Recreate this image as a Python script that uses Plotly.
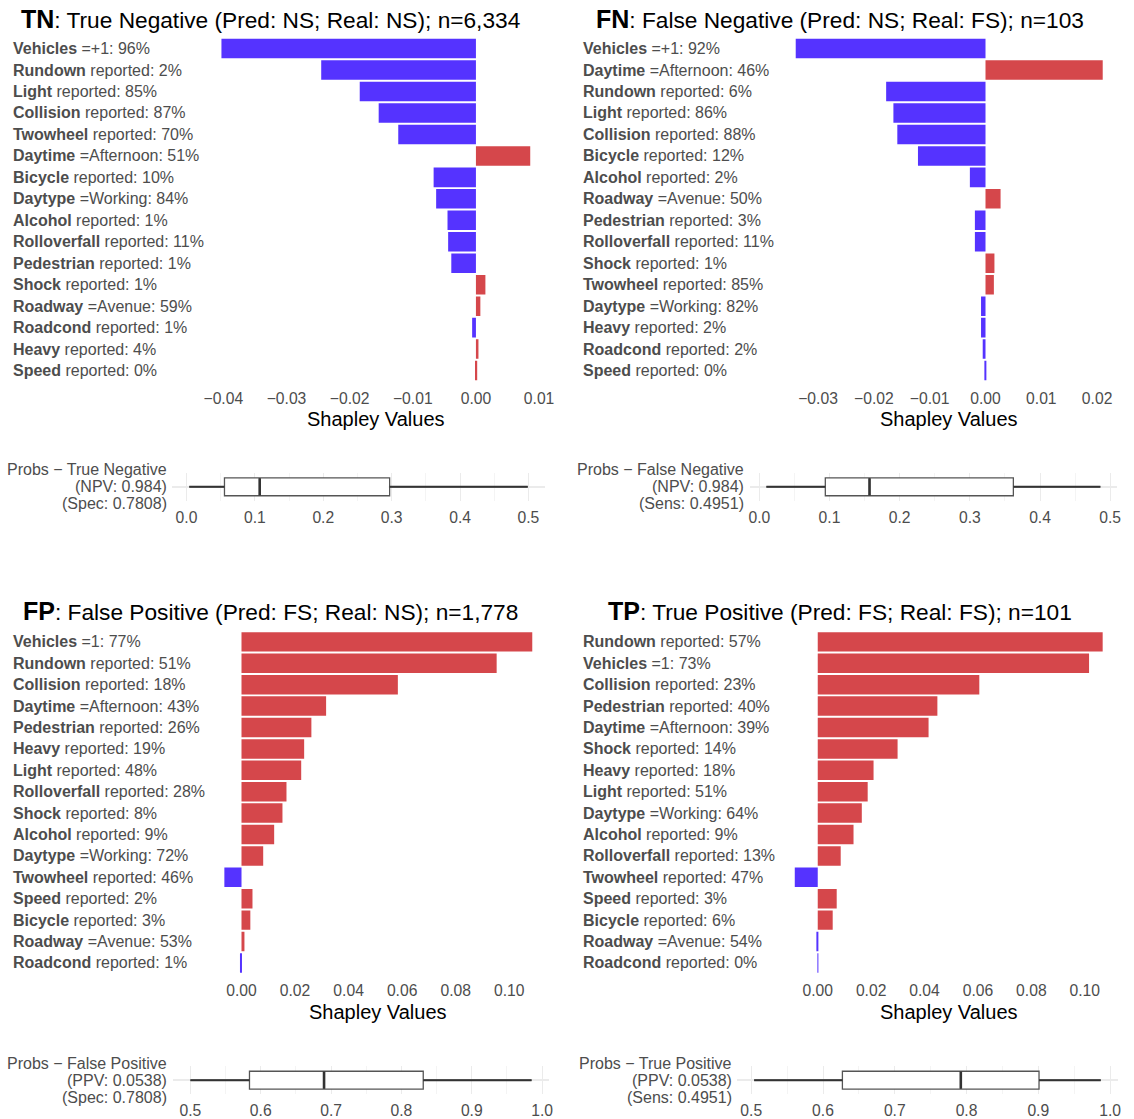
import plotly.graph_objects as go

W, H = 1134, 1119
FONT = "Liberation Sans, Arial, sans-serif"
BLUE = "#5533FF"
RED = "#D5474B"
GREY = "#4d4d4d"

# ---------------- data ----------------
tn_features = ["Vehicles", "Rundown", "Light", "Collision", "Twowheel", "Daytime", "Bicycle", "Daytype",
               "Alcohol", "Rolloverfall", "Pedestrian", "Shock", "Roadway", "Roadcond", "Heavy", "Speed"]
tn_levels = ["=+1", "reported", "reported", "reported", "reported", "=Afternoon", "reported", "=Working",
             "reported", "reported", "reported", "reported", "=Avenue", "reported", "reported", "reported"]
tn_pct = [96, 2, 85, 87, 70, 51, 10, 84, 1, 11, 1, 1, 59, 1, 4, 0]
tn_shap = [-0.0403, -0.0245, -0.0184, -0.0154, -0.0123, 0.0086, -0.0067, -0.0063,
           -0.0045, -0.0044, -0.0039, 0.0015, 0.0007, -0.0006, 0.0004, 0.0002]

fn_features = ["Vehicles", "Daytime", "Rundown", "Light", "Collision", "Bicycle", "Alcohol", "Roadway",
               "Pedestrian", "Rolloverfall", "Shock", "Twowheel", "Daytype", "Heavy", "Roadcond", "Speed"]
fn_levels = ["=+1", "=Afternoon", "reported", "reported", "reported", "reported", "reported", "=Avenue",
             "reported", "reported", "reported", "reported", "=Working", "reported", "reported", "reported"]
fn_pct = [92, 46, 6, 86, 88, 12, 2, 50, 3, 11, 1, 85, 82, 2, 2, 0]
fn_shap = [-0.0340, 0.0210, -0.0178, -0.0165, -0.0158, -0.0121, -0.0028, 0.0027,
           -0.0019, -0.0019, 0.0016, 0.0015, -0.0008, -0.0008, -0.0005, -0.0001]

fp_features = ["Vehicles", "Rundown", "Collision", "Daytime", "Pedestrian", "Heavy", "Light", "Rolloverfall",
               "Shock", "Alcohol", "Daytype", "Twowheel", "Speed", "Bicycle", "Roadway", "Roadcond"]
fp_levels = ["=1", "reported", "reported", "=Afternoon", "reported", "reported", "reported", "reported",
             "reported", "reported", "=Working", "reported", "reported", "reported", "=Avenue", "reported"]
fp_pct = [77, 51, 18, 43, 26, 19, 48, 28, 8, 9, 72, 46, 2, 3, 53, 1]
fp_shap = [0.1086, 0.0953, 0.0584, 0.0316, 0.0261, 0.0234, 0.0223, 0.0168,
           0.0153, 0.0122, 0.0081, -0.0064, 0.0041, 0.0033, 0.0011, -0.0002]

tp_features = ["Rundown", "Vehicles", "Collision", "Pedestrian", "Daytime", "Shock", "Heavy", "Light",
               "Daytype", "Alcohol", "Rolloverfall", "Twowheel", "Speed", "Bicycle", "Roadway", "Roadcond"]
tp_levels = ["reported", "=1", "reported", "reported", "=Afternoon", "reported", "reported", "reported",
             "=Working", "reported", "reported", "reported", "reported", "reported", "=Avenue", "reported"]
tp_pct = [57, 73, 23, 40, 39, 14, 18, 51, 64, 9, 13, 47, 3, 6, 54, 0]
tp_shap = [0.1067, 0.1016, 0.0605, 0.0448, 0.0415, 0.0299, 0.0209, 0.0187,
           0.0165, 0.0134, 0.0086, -0.0086, 0.0071, 0.0056, -0.0003, -0.0001]

panel_codes = ["TN", "FN", "FP", "TP"]
panel_titles = ["True Negative (Pred: NS; Real: NS); n=6,334",
                "False Negative (Pred: NS; Real: FS); n=103",
                "False Positive (Pred: FS; Real: NS); n=1,778",
                "True Positive (Pred: FS; Real: FS); n=101"]

box_labels = [["Probs \u2212 True Negative", "(NPV: 0.984)", "(Spec: 0.7808)"],
              ["Probs \u2212 False Negative", "(NPV: 0.984)", "(Sens: 0.4951)"],
              ["Probs \u2212 False Positive", "(PPV: 0.0538)", "(Spec: 0.7808)"],
              ["Probs \u2212 True Positive", "(PPV: 0.0538)", "(Sens: 0.4951)"]]
box_low = [0.004, 0.010, 0.500, 0.504]
box_q1 = [0.0555, 0.094, 0.584, 0.627]
box_median = [0.107, 0.157, 0.690, 0.792]
box_q3 = [0.297, 0.362, 0.831, 0.901]
box_high = [0.499, 0.486, 0.985, 0.987]

# ---------------- layout geometry (pixels) ----------------
bar_xdom = [(206, 549), (786, 1127), (209, 551), (785, 1127)]
bar_ydom = [(38, 383), (38, 383), (634, 978), (634, 978)]
bar_dtick = [0.01, 0.01, 0.02, 0.02]
label_x = [9, 585, 9, 585]
title_x = [271, 846, 271, 846]
title_y = [19, 19, 614, 614]
xtitle_y = [421, 421, 1017, 1017]
box_xdom = [(172, 548), (755, 1126), (173, 552), (742, 1127)]
box_ydom = [(475, 503), (475, 503), (1071, 1099), (1071, 1099)]
box_label_x = [169, 751, 169, 739]
box_label_y = [(472, 489, 506), (472, 489, 506), (1068, 1085, 1102), (1068, 1085, 1102)]


def px(x):
    return x / W


def py(y):
    return 1 - y / H


def ax_names(k):
    s = "" if k == 1 else str(k)
    return "x" + s, "y" + s, "xaxis" + s, "yaxis" + s


fig = go.Figure()
annotations = []
layout = {}

panels = [(tn_features, tn_levels, tn_pct, tn_shap),
          (fn_features, fn_levels, fn_pct, fn_shap),
          (fp_features, fp_levels, fp_pct, fp_shap),
          (tp_features, tp_levels, tp_pct, tp_shap)]

for i, (feat, lev, pct, shap) in enumerate(panels):
    xa, ya, xkey, ykey = ax_names(i + 1)
    n = len(feat)
    ypos = list(range(n))
    colors = [BLUE if v < 0 else RED for v in shap]
    fig.add_trace(go.Bar(x=shap, y=ypos, orientation="h", marker=dict(color=colors, line=dict(width=0)),
                         xaxis=xa, yaxis=ya, showlegend=False, hoverinfo="x"))
    lo, hi = min(min(shap), 0), max(max(shap), 0)
    pad = 0.05 * (hi - lo)
    layout[xkey] = dict(domain=[px(bar_xdom[i][0]), px(bar_xdom[i][1])], anchor=ya,
                        range=[lo - pad, hi + pad], dtick=bar_dtick[i], tick0=0, tickformat=".2f",
                        showgrid=False, zeroline=False, showline=False,
                        ticks="outside", ticklen=3, tickcolor="rgba(0,0,0,0)",
                        tickfont=dict(size=15.7, color=GREY, family=FONT))
    layout[ykey] = dict(domain=[py(bar_ydom[i][1]), py(bar_ydom[i][0])], anchor=xa,
                        range=[n - 0.5, -0.5], showgrid=False, zeroline=False, showline=False,
                        showticklabels=False, ticks="")
    for j in range(n):
        annotations.append(dict(xref="paper", yref=ya, x=px(label_x[i]), y=j, xanchor="left", yanchor="middle",
                                text=f"<b>{feat[j]}</b> {lev[j]}: {pct[j]}%", showarrow=False,
                                font=dict(size=16, color=GREY, family=FONT)))
    annotations.append(dict(xref=f"{xa} domain", yref="paper", x=0.5, y=py(xtitle_y[i]), xanchor="center",
                            yanchor="middle", text="Shapley Values", showarrow=False,
                            font=dict(size=20, color="black", family=FONT)))
    annotations.append(dict(xref="paper", yref="paper", x=px(title_x[i]), y=py(title_y[i]), xanchor="center",
                            yanchor="middle", showarrow=False,
                            text=f"<span style='font-size:25px'><b>{panel_codes[i]}</b></span>: {panel_titles[i]}",
                            font=dict(size=22.7, color="black", family=FONT)))

    # box plot panel
    xb, yb, xbkey, ybkey = ax_names(i + 5)
    fig.add_trace(go.Box(orientation="h", y=[0], q1=[box_q1[i]], median=[box_median[i]], q3=[box_q3[i]],
                         lowerfence=[box_low[i]], upperfence=[box_high[i]], width=0.64,
                         fillcolor="white", line=dict(color="#555555", width=1.3), whiskerwidth=0,
                         boxpoints=False, xaxis=xb, yaxis=yb, showlegend=False, hoverinfo="x"))
    fig.add_trace(go.Scatter(x=[box_low[i], box_q1[i], None, box_q3[i], box_high[i]], y=[0, 0, None, 0, 0],
                             mode="lines", line=dict(color="#333333", width=2), xaxis=xb, yaxis=yb,
                             showlegend=False, hoverinfo="skip"))
    fig.add_trace(go.Scatter(x=[box_median[i], box_median[i]], y=[-0.31, 0.31], mode="lines",
                             line=dict(color="#333333", width=2.6), xaxis=xb, yaxis=yb,
                             showlegend=False, hoverinfo="skip"))
    blo, bhi = box_low[i], box_high[i]
    bpad = 0.05 * (bhi - blo)
    layout[xbkey] = dict(domain=[px(box_xdom[i][0]), px(box_xdom[i][1])], anchor=yb,
                         range=[blo - bpad, bhi + bpad], dtick=0.1, tick0=0, tickformat=".1f",
                         showgrid=True, gridcolor="#ebebeb", gridwidth=1.2,
                         minor=dict(dtick=0.05, showgrid=True, gridcolor="#f4f4f4", gridwidth=1),
                         zeroline=False, showline=False,
                         ticks="outside", ticklen=2, tickcolor="rgba(0,0,0,0)",
                         tickfont=dict(size=15.7, color=GREY, family=FONT))
    layout[ybkey] = dict(domain=[py(box_ydom[i][1]), py(box_ydom[i][0])], anchor=xb,
                         range=[-0.5, 0.5], tickvals=[0], showticklabels=False, showgrid=True,
                         gridcolor="#ebebeb", gridwidth=1.5, zeroline=False, showline=False, ticks="")
    for line_text, ly in zip(box_labels[i], box_label_y[i]):
        annotations.append(dict(xref="paper", yref="paper", x=px(box_label_x[i]), y=py(ly), xanchor="right",
                                yanchor="middle", showarrow=False, text=line_text,
                                font=dict(size=16, color=GREY, family=FONT)))

fig.update_layout(width=W, height=H, margin=dict(l=0, r=0, t=0, b=0), plot_bgcolor="white",
                  paper_bgcolor="white", bargap=0.09, annotations=annotations,
                  font=dict(family=FONT), **layout)

fig.write_html("out.html", config={"displayModeBar": False},
               post_script="document.body.style.margin='0';document.body.style.padding='0';"
                           "document.body.style.overflow='hidden';")
